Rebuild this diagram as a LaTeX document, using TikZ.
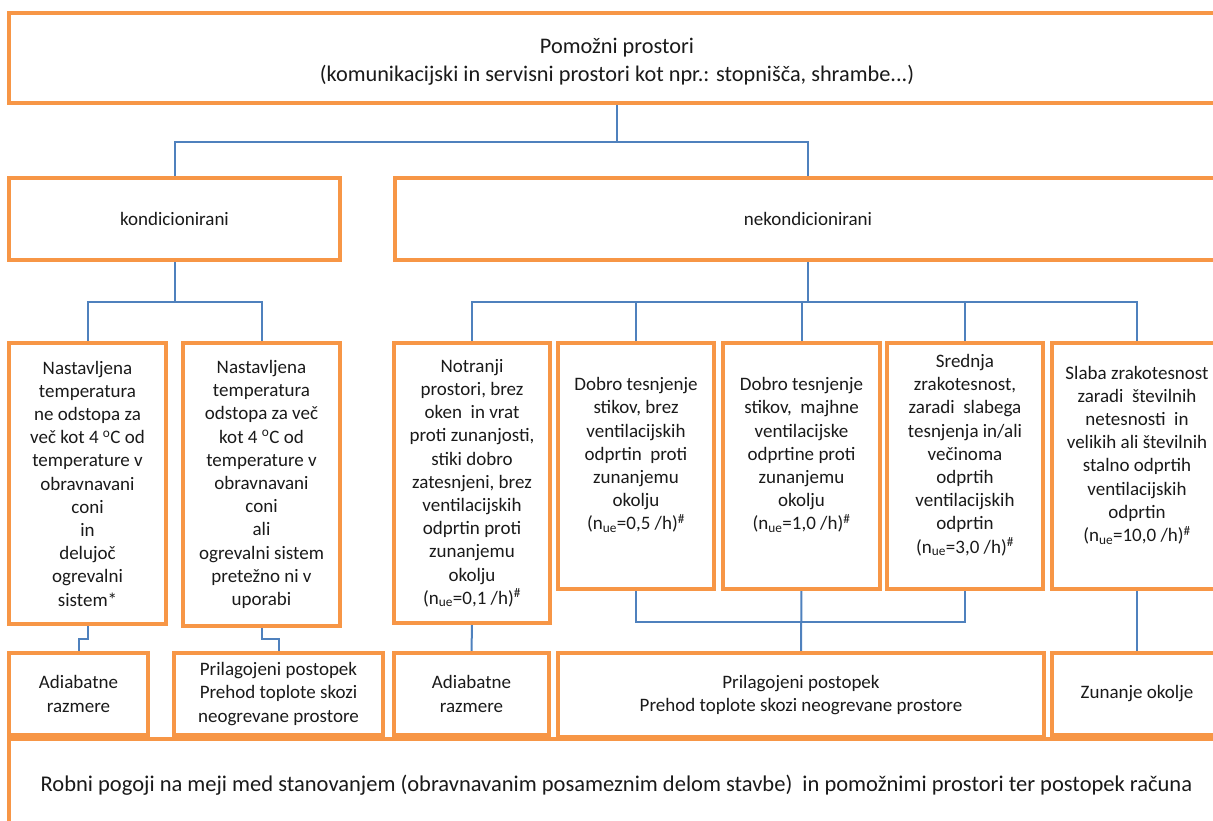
\documentclass[tikz,border=0pt]{standalone}
\usepackage{fontspec}
\setmainfont{Carlito}
\usetikzlibrary{backgrounds}
\definecolor{boxorange}{HTML}{F79646}
\definecolor{connblue}{HTML}{4F81BD}
\definecolor{txt}{HTML}{1A1A1A}
\begin{document}
\begin{tikzpicture}[x=1pt,y=-1pt,
  box/.style={draw=boxorange, line width=3.3pt, fill=white, inner sep=0pt, outer sep=0pt,
    align=center, text=txt, font=\fontsize{19}{23.2}\selectfont},
  bigbox/.style={box, font=\fontsize{22.5}{28}\selectfont},
  lbl/.style={align=center, text=txt, inner sep=0pt, font=\fontsize{19}{23.2}\selectfont},
  conn/.style={draw=connblue, line width=2pt}]
\useasboundingbox (0,0) rectangle (1213,820);

% big bottom box
\node[bigbox, minimum width=1215pt, minimum height=92pt] (bot) at (616.5,785)
  {Robni pogoji na meji med stanovanjem (obravnavanim posameznim delom stavbe)\ \ in pomožnimi prostori ter postopek računa};

% top
\node[bigbox, minimum width=1216pt, minimum height=90pt] (top) at (617,58) {};
\node[lbl, font=\fontsize{22.3}{28}\selectfont] (toptxt) at (617,62)
  {Pomožni prostori\\(komunikacijski in servisni prostori kot npr.: stopnišča, shrambe...)};

% second level
\node[box, minimum width=331pt, minimum height=82pt] (kond) at (174.5,219) {kondicionirani};
\node[box, minimum width=826pt, minimum height=82pt] (nekond) at (808,219) {nekondicionirani};

% third level
\node[box, minimum width=157pt, minimum height=281pt] (b1) at (87.5,483.5)
  {Nastavljena\\temperatura\\ne odstopa za\\več kot 4 \textsuperscript{o}C od\\temperature v\\obravnavani\\coni\\in\\delujoč\\ogrevalni\\sistem*};
\node[box, minimum width=157pt, minimum height=283pt] (b2) at (261.5,484.5)
  {Nastavljena\\temperatura\\odstopa za več\\kot 4 \textsuperscript{o}C od\\temperature v\\obravnavani\\coni\\ali\\ogrevalni sistem\\pretežno ni v\\uporabi};
\node[box, minimum width=156pt, minimum height=280pt] (b3) at (472,483)
  {Notranji\\prostori, brez\\oken\ \ in vrat\\proti zunanjosti,\\stiki dobro\\zatesnjeni, brez\\ventilacijskih\\odprtin proti\\zunanjemu\\okolju\\(n\textsubscript{ue}=0,1 /h)\textsuperscript{\#}};

\node[box, minimum width=156pt, minimum height=246pt] (b4) at (636,466) {};
\node[lbl] (b4t) at (636,455)
  {Dobro tesnjenje\\stikov, brez\\ventilacijskih\\odprtin\ \ proti\\zunanjemu\\okolju\\(n\textsubscript{ue}=0,5 /h)\textsuperscript{\#}};
\node[box, minimum width=157pt, minimum height=246pt] (b5) at (801.5,466) {};
\node[lbl] (b5t) at (801.5,455)
  {Dobro tesnjenje\\stikov,\ \ majhne\\ventilacijske\\odprtine proti\\zunanjemu\\okolju\\(n\textsubscript{ue}=1,0 /h)\textsuperscript{\#}};
\node[box, minimum width=156pt, minimum height=246pt] (b6) at (965,466) {};
\node[lbl] (b6t) at (965,455)
  {Srednja\\zrakotesnost,\\zaradi\ \ slabega\\tesnjenja in/ali\\večinoma\\odprtih\\ventilacijskih\\odprtin\\(n\textsubscript{ue}=3,0 /h)\textsuperscript{\#}};
\node[box, minimum width=170pt, minimum height=246pt] (b7) at (1137,466) {};
\node[lbl] (b7t) at (1137,455)
  {Slaba zrakotesnost\\zaradi\ \ številnih\\netesnosti\ \ in\\velikih ali številnih\\stalno odprtih\\ventilacijskih\\odprtin\\(n\textsubscript{ue}=10,0 /h)\textsuperscript{\#}};

% fourth level
\node[box, minimum width=139pt, minimum height=82pt] (a1) at (78.5,694) {Adiabatne\\razmere};
\node[box, minimum width=209pt, minimum height=82pt] (p1) at (278.5,694) {Prilagojeni postopek\\Prehod toplote skozi\\neogrevane prostore};
\node[box, minimum width=155pt, minimum height=82pt] (a2) at (471.5,694) {Adiabatne\\razmere};
\node[box, minimum width=486pt, minimum height=84pt] (p2) at (801,695) {Prilagojeni postopek\\Prehod toplote skozi neogrevane prostore};
\node[box, minimum width=170pt, minimum height=82pt] (z) at (1137,694) {Zunanje okolje};

% connectors
\begin{scope}[on background layer]
\draw[conn] (top.south) -- ++(0,39) coordinate (j1);
\draw[conn] (j1) -| (kond.north);
\draw[conn] (j1) -| (nekond.north);

\draw[conn] (kond.south) -- ++(0,42) coordinate (j2);
\draw[conn] (j2) -| (b1.north);
\draw[conn] (j2) -| (b2.north);

\draw[conn] (nekond.south) -- ++(0,42) coordinate (j3);
\draw[conn] (j3) -| (b3.north);
\draw[conn] (j3) -| (b4.north);
\draw[conn] (j3) -| (b5.north);
\draw[conn] (j3) -| (b6.north);
\draw[conn] (j3) -| (b7.north);

\draw[conn] (b1.south) -- ++(0,15) -| (a1.north);
\draw[conn] (b2.south) -- ++(0,13) -| (p1.north);
\draw[conn] (b3.south) -- (a2.north);
\draw[conn] (b4.south) -- ++(0,33) coordinate (j4) -| (b6.south);
\draw[conn] (b5.south) -- (p2.north);
\draw[conn] (b7.south) -- (z.north);
\end{scope}
\end{tikzpicture}
\end{document}
